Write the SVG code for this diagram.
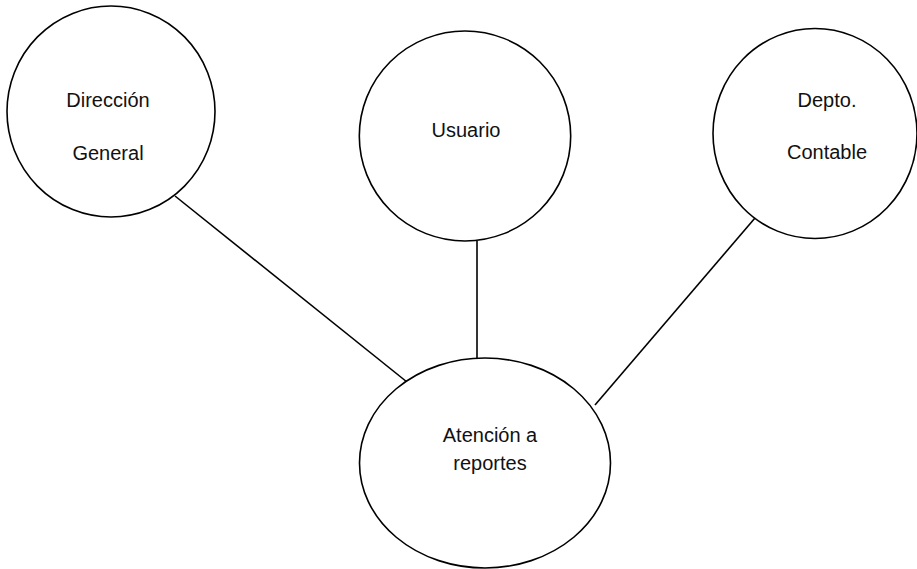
<svg xmlns="http://www.w3.org/2000/svg" width="917" height="569" viewBox="0 0 917 569">
<style>
.n{fill:#fff;stroke:#000;stroke-width:1.6}
.c{stroke:#000;stroke-width:1.6;fill:none}
text{font-family:"Liberation Sans",Arial,sans-serif;font-size:20px;fill:#111;text-anchor:middle}
</style>
<rect width="917" height="569" fill="#fff"/>
<g id="connectors">
<line class="c" x1="175" y1="196" x2="407" y2="382"/>
<line class="c" x1="477" y1="241" x2="477" y2="358"/>
<line class="c" x1="755" y1="218" x2="595" y2="405"/>
</g>
<g id="direccion">
<ellipse class="n" cx="111" cy="111.5" rx="104" ry="105.5"/>
<text x="108" y="107">Dirección</text>
<text x="108" y="160">General</text>
</g>
<g id="usuario">
<ellipse class="n" cx="465" cy="136" rx="105.7" ry="105"/>
<text x="466" y="137">Usuario</text>
</g>
<g id="depto">
<ellipse class="n" cx="815" cy="133.5" rx="102" ry="105"/>
<text x="827" y="107">Depto.</text>
<text x="827" y="159">Contable</text>
</g>
<g id="atencion">
<ellipse class="n" cx="485" cy="463" rx="125.5" ry="105"/>
<text x="490" y="442">Atención a</text>
<text x="490" y="470">reportes</text>
</g>
</svg>
